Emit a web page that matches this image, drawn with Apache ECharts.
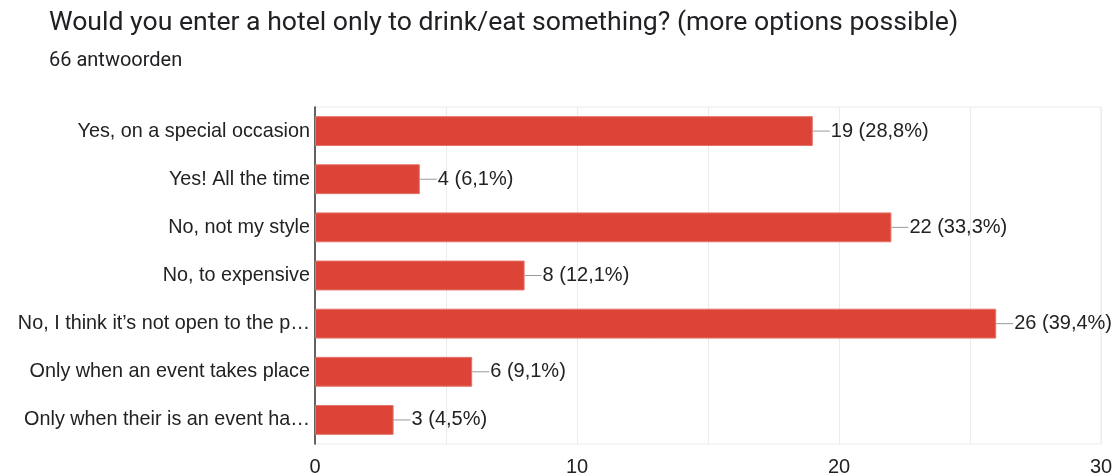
<!DOCTYPE html>
<html>
<head>
<meta charset="utf-8">
<script src="https://cdn.jsdelivr.net/npm/echarts@6/dist/echarts.min.js"></script>
<style>
  html, body { margin: 0; padding: 0; background: #fff; }
  #chart { width: 1114px; height: 473px; }
</style>
</head>
<body>
<div id="chart"></div>
<script>
// answers, top to bottom
const categories = [
  'Yes, on a special occasion',
  'Yes! All the time',
  'No, not my style',
  'No, to expensive',
  'No, I think it\u2019s not open to the p\u2026',
  'Only when an event takes place',
  'Only when their is an event ha\u2026'
]
const counts = [19, 4, 22, 8, 26, 6, 3]
const percents = ['28,8%', '6,1%', '33,3%', '12,1%', '39,4%', '9,1%', '4,5%']
const tickLabels = ['0', '10', '20', '30']

let myChart = echarts.init(document.getElementById('chart'))
let option = {
  animation: false,
  title: [
    {
      text: 'Would you enter a hotel only to drink/eat something? (more options possible)',
      left: 44,
      top: 5,
      textStyle: {
        fontFamily: 'Roboto',
        fontSize: 26.6,
        fontWeight: 'normal',
        color: '#202124'
      }
    },
    {
      text: '66 antwoorden',
      left: 44,
      top: 46,
      textStyle: {
        fontFamily: 'Roboto',
        fontSize: 20,
        fontWeight: 'normal',
        color: '#202124'
      }
    }
  ],
  grid: {
    left: 315,
    right: 13,
    top: 107,
    bottom: 29,
    outerBoundsMode: 'none',
    containLabel: false,
    show: true,
    borderColor: '#ebebeb',
    borderWidth: 1
  },
  xAxis: {
    type: 'value',
    min: 0,
    max: 30,
    interval: 5,
    axisLine: { show: false },
    axisTick: { show: false },
    splitLine: { lineStyle: { color: '#ebebeb' } },
    axisLabel: {
      margin: 13,
      fontFamily: 'Liberation Sans',
      fontSize: 20,
      color: '#222',
      formatter: function (v) {
        return tickLabels.indexOf(String(v)) >= 0 ? String(v) : ''
      }
    }
  },
  yAxis: {
    type: 'category',
    inverse: true,
    data: categories,
    axisLine: { lineStyle: { color: '#333', width: 1.5 } },
    axisTick: { show: false },
    axisLabel: {
      margin: 5,
      fontFamily: 'Liberation Sans',
      fontSize: 19.8,
      color: '#222'
    }
  },
  series: [
    {
      type: 'bar',
      data: counts,
      barWidth: '62%',
      itemStyle: { color: '#db4437', borderColor: '#e57368', borderWidth: 1 },
      label: {
        show: true,
        position: 'right',
        distance: 0,
        formatter: function (p) {
          return '{l|}{v|' + counts[p.dataIndex] + ' (' + percents[p.dataIndex] + ')}'
        },
        rich: {
          l: { width: 17, height: 1, backgroundColor: '#999' },
          v: { fontFamily: 'Liberation Sans', fontSize: 20, color: '#222', padding: [0, 0, 0, 1] }
        }
      }
    }
  ]
}
myChart.setOption(option)
</script>
</body>
</html>
